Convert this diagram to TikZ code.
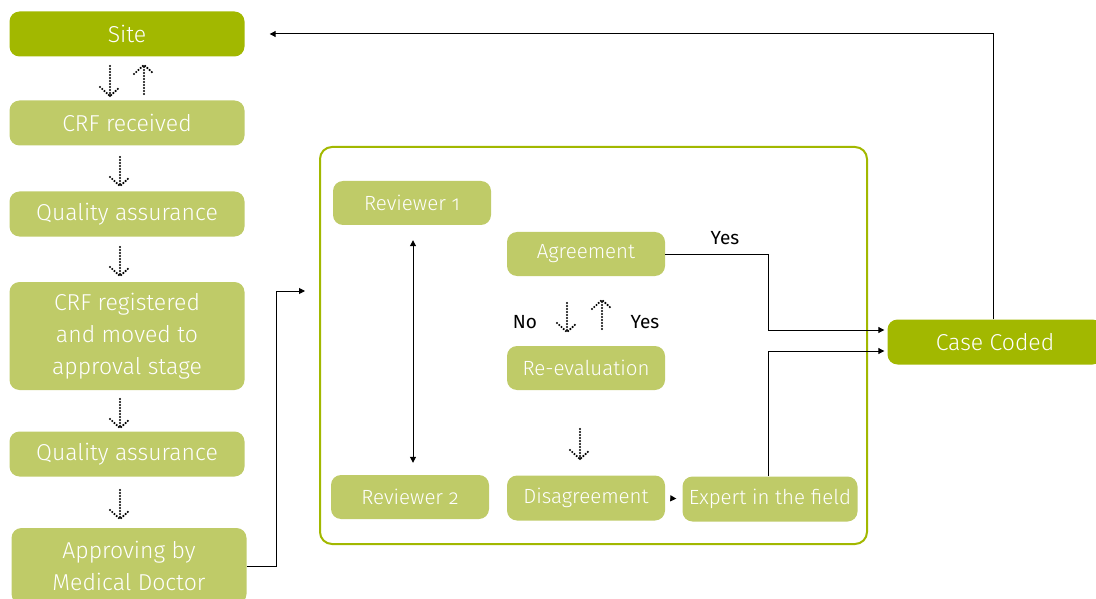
\documentclass[tikz,border=0pt]{standalone}
\usepackage{fontspec}
\setmainfont{Fira Sans}[Numbers=OldStyle]
\newfontfamily\boxfont{Fira Sans Light}[Numbers=OldStyle]
\usetikzlibrary{arrows.meta}
\definecolor{sitegreen}{HTML}{A2B800}
\definecolor{stagegreen}{HTML}{BFCB68}

\begin{document}
\begin{tikzpicture}[x=1pt, y=-1pt,
        >={Triangle[length=6pt,width=6pt]},
        stage/.style={rounded corners=10pt, fill=stagegreen, text=white, inner sep=0pt,
            align=center, minimum width=235pt, minimum height=45pt,
            font=\boxfont\fontsize{23}{32}\selectfont},
        small stage/.style={stage, minimum width=158pt, minimum height=44pt,
            font=\boxfont\fontsize{20.5}{24}\selectfont},
        label text/.style={font=\fontsize{19}{20}\selectfont},
        dots/.style={line width=2.4pt, line cap=round, dash pattern=on 0pt off 3pt},
        flow/.style={line width=1pt}]
        \useasboundingbox (0,0) rectangle (1096,599);

        % 左侧流程
        \node [stage, fill=sitegreen] (site) at (127,34) {Site};
        \node [stage] (crf) at (127,123) {CRF received};
        \node [stage] (qa1) at (127,214) {Quality assurance};
        \node [stage, minimum height=108pt] (reg) at (127,336)
            {CRF registered\\and moved to\\approval stage};
        \node [stage] (qa2) at (127,454) {Quality assurance};
        \node [stage, minimum height=76pt] (appr) at (129,566)
            {Approving by\\Medical Doctor};

        % 点状箭头
        \foreach \x/\ya/\yb in {110/66/96, 120/157/186, 120/247/276, 120/399/428,
            120/490/519, 567/303/332, 580/429/459}
        {
            \draw [dots] (\x,\ya) -- (\x,\yb);
            \draw [dots] (\x-10,\yb-9) -- (\x,\yb) -- (\x+10,\yb-9);
        }
        \foreach \x/\ya/\yb in {144/65/94, 602/300/329}
        {
            \draw [dots] (\x,\yb) -- (\x,\ya);
            \draw [dots] (\x-10,\ya+9) -- (\x,\ya) -- (\x+10,\ya+9);
        }

        % 审核框
        \draw [sitegreen, line width=2pt, rounded corners=12pt] (320,147) rectangle (867,544);
        \node [small stage] (rev1) at (412,203) {Reviewer 1};
        \node [small stage] (rev2) at (410,497) {Reviewer 2};
        \node [small stage] (agree) at (586,254) {Agreement};
        \node [small stage] (reeval) at (586,368) {Re-evaluation};
        \node [small stage, minimum height=45pt] (disag) at (586,498) {Disagreement};
        \node [small stage, minimum width=175pt, minimum height=45pt] (expert) at (770,499)
            {Expert in the field};
        \node [label text] (no) at (525,322) {No};
        \node [label text] (yes) at (645,322) {Yes};

        % 结果
        \node [stage, fill=sitegreen, minimum width=215pt] (coded) at (995,342) {Case Coded};
        \node [label text] (yesagree) at (725,238) {Yes};

        % 连线
        \coordinate (turn) at (276,291);
        \coordinate (into) at (305,291);
        \draw [flow, ->] (appr.east) -| (turn) -- (into);
        \draw [flow, <->] ([xshift=1pt, yshift=-15pt]rev1.south) -- ([xshift=3pt, yshift=12pt]rev2.north);
        \draw [flow, ->, shorten >=3pt] (agree.east) -- (768,254) |- ([yshift=12pt]coded.west);
        \draw [flow, ->, shorten >=3pt] ([xshift=-2pt]expert.north) |- ([yshift=-9pt]coded.west);
        \draw [flow, ->, shorten <=7pt, shorten >=6pt] (disag.east) -- (expert.west);
        \draw [flow, ->] ([xshift=-2pt]coded.north) |- ([xshift=25pt]site.east);

\end{tikzpicture}
\end{document}
